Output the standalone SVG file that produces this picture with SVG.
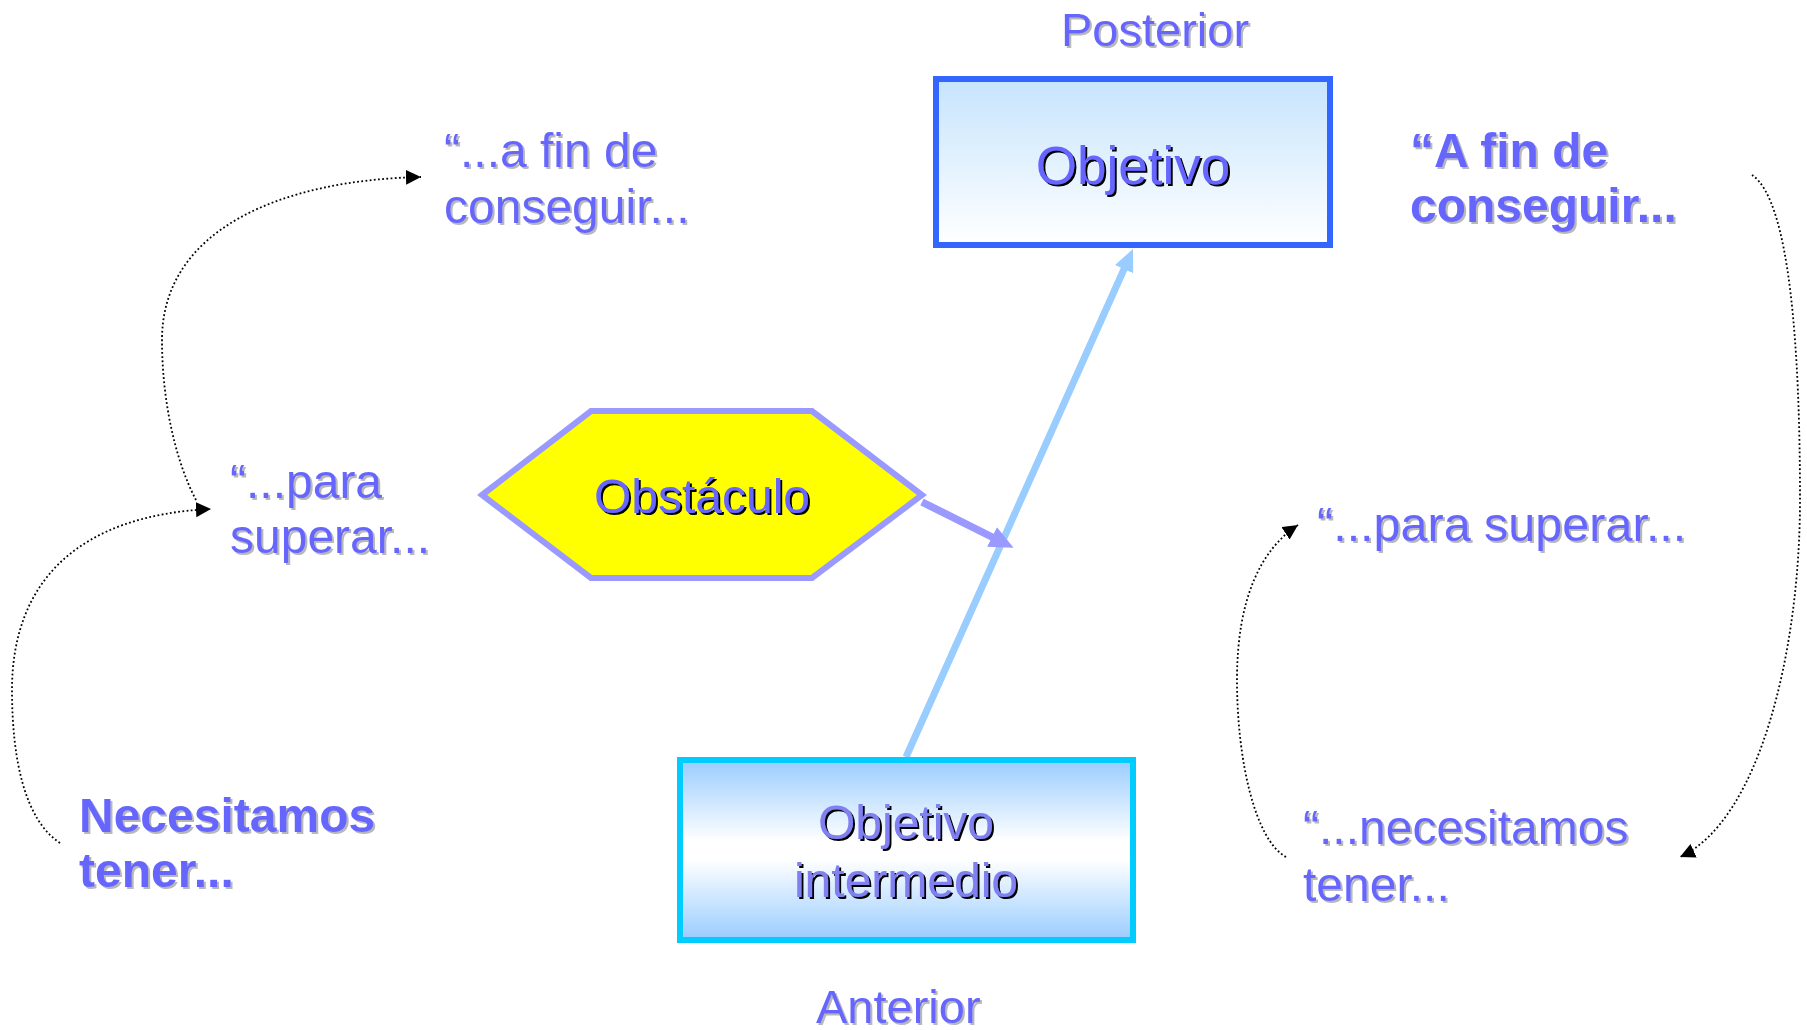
<svg xmlns="http://www.w3.org/2000/svg" width="1807" height="1030" viewBox="0 0 1807 1030">
<style>
text { font-family: "Liberation Sans", Arial, sans-serif; fill: #6666FF; }
.lbl { font-size: 48px; filter: url(#sg); }
.pa { font-size: 47px; }
.b { font-weight: bold; }
.node { filter: url(#sb); }
.dot { fill: none; stroke: #000; stroke-width: 1.8; stroke-dasharray: 1.8 2.4; }
</style>
<defs>
<filter id="sg" x="-10%" y="-30%" width="130%" height="160%">
<feDropShadow dx="2" dy="2" stdDeviation="0" flood-color="#b8b8b8"/>
</filter>
<filter id="sb" x="-10%" y="-30%" width="130%" height="160%">
<feDropShadow dx="2" dy="2" stdDeviation="0" flood-color="#000000"/>
</filter>
<linearGradient id="gTop" x1="0" y1="0" x2="0" y2="1">
<stop offset="0" stop-color="#C6E4FD"/>
<stop offset="1" stop-color="#FFFFFF"/>
</linearGradient>
<linearGradient id="gMid" x1="0" y1="0" x2="0" y2="1">
<stop offset="0" stop-color="#99CCFF"/>
<stop offset="0.45" stop-color="#FFFFFF"/>
<stop offset="0.55" stop-color="#FFFFFF"/>
<stop offset="1" stop-color="#99CCFF"/>
</linearGradient>
<marker id="mDot" markerUnits="userSpaceOnUse" markerWidth="16" markerHeight="16" refX="15" refY="7.5" orient="auto">
<path d="M0,0 L15,7.5 L0,15 z" fill="#000"/>
</marker>
<marker id="mBlue" markerUnits="userSpaceOnUse" markerWidth="24" markerHeight="22" refX="10" refY="10" orient="auto">
<path d="M0,0 L22,10 L0,20 z" fill="#99CCFF"/>
</marker>
<marker id="mPurple" markerUnits="userSpaceOnUse" markerWidth="26" markerHeight="24" refX="10" refY="11" orient="auto">
<path d="M0,0 L24,11 L0,22 z" fill="#9999FF"/>
</marker>
</defs>
<rect width="1807" height="1030" fill="#FFFFFF"/>

<g id="connectors">
<path d="M906,757 L1128.1,260" fill="none" stroke="#99CCFF" stroke-width="7" marker-end="url(#mBlue)"/>
<path d="M922,502 L1001,541.5" fill="none" stroke="#9999FF" stroke-width="7.5" marker-end="url(#mPurple)"/>
<path class="dot" d="M196,500 C175,460 162,400 162,340 C162,230 280,180 421,177" marker-end="url(#mDot)"/>
<path class="dot" d="M60,843 C25,820 12,760 12,690 C12,580 80,515 211,509" marker-end="url(#mDot)"/>
<path class="dot" d="M1752,175 C1790,200 1800,350 1800,500 C1800,650 1760,820 1680,857" marker-end="url(#mDot)"/>
<path class="dot" d="M1286,857 C1255,840 1237,760 1237,680 C1237,600 1260,550 1298,525" marker-end="url(#mDot)"/>
</g>

<g id="objetivo">
<rect x="936" y="79" width="394" height="166" fill="url(#gTop)" stroke="#3366FF" stroke-width="6"/>
<text class="node" x="1133" y="184" font-size="53" text-anchor="middle">Objetivo</text>
</g>

<g id="obstaculo">
<polygon points="482,495 591,411 812,411 922,495 812,578 591,578" fill="#FFFF00" stroke="#9999FF" stroke-width="6"/>
<text class="node" x="702" y="513" font-size="48" text-anchor="middle">Obstáculo</text>
</g>

<g id="objetivo-intermedio">
<rect x="680" y="760" width="453" height="180" fill="url(#gMid)" stroke="#00CCFF" stroke-width="6"/>
<text class="node" x="906" y="839" font-size="48" text-anchor="middle" style="fill:#8080F0">Objetivo</text>
<text class="node" x="906" y="897" font-size="48" text-anchor="middle" style="fill:#8080F0">intermedio</text>
</g>

<g id="posterior">
<text class="lbl pa" x="1061" y="46">Posterior</text>
</g>
<g id="anterior">
<text class="lbl pa" x="816" y="1023">Anterior</text>
</g>

<g id="left-fin">
<text class="lbl" x="444" y="167">“...a fin de</text>
<text class="lbl" x="444" y="223">conseguir...</text>
</g>
<g id="left-para">
<text class="lbl" x="230" y="498">“...para</text>
<text class="lbl" x="230" y="553">superar...</text>
</g>
<g id="left-necesitamos">
<text class="lbl b" x="79" y="832">Necesitamos</text>
<text class="lbl b" x="79" y="887">tener...</text>
</g>

<g id="right-fin">
<text class="lbl b" x="1410" y="167">“A fin de</text>
<text class="lbl b" x="1410" y="222">conseguir...</text>
</g>
<g id="right-para">
<text class="lbl" x="1317" y="541" style="font-size:48.5px">“...para superar...</text>
</g>
<g id="right-necesitamos">
<text class="lbl" x="1303" y="844">“...necesitamos</text>
<text class="lbl" x="1303" y="901">tener...</text>
</g>
</svg>
